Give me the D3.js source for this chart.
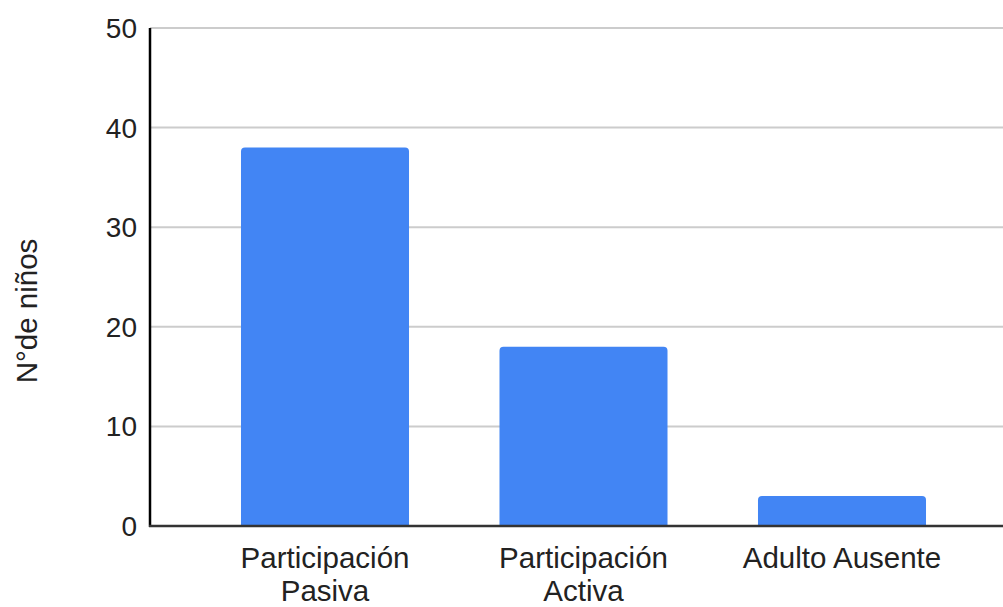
<!DOCTYPE html>
<html><head><meta charset="utf-8">
<script src="https://cdn.jsdelivr.net/npm/d3@7"></script>
<style>body{margin:0;background:#fff}svg{display:block}text{font-family:"Liberation Sans",Arial,sans-serif;fill:#222}</style>
</head><body><svg id="c" width="1003" height="607"></svg>
<script>
const categories = [["Participación","Pasiva"],["Participación","Activa"],["Adulto Ausente"]];
const values = [38, 18, 3];
const yTicks = [0,10,20,30,40,50];
const yTitle = "N°de niños";

const svg = d3.select("#c");
const x = d3.scaleBand().domain(d3.range(categories.length)).range([150,1017]).paddingInner(0.35).paddingOuter(0.352);
const y = d3.scaleLinear().domain([0,50]).range([526,28]);

// gridlines
svg.append("g").selectAll("line").data(yTicks.filter(d=>d>0)).join("line")
  .attr("x1",150).attr("x2",1003).attr("y1",d=>y(d)).attr("y2",d=>y(d))
  .attr("stroke","#cccccc").attr("stroke-width",2);

// bars with rounded top corners
const r = 4;
svg.append("g").selectAll("path").data(values).join("path")
  .attr("fill","#4285f4")
  .attr("d",(d,i)=>{
    const x0=x(i), w=x.bandwidth(), y0=y(d), yb=y(0);
    return `M${x0},${yb}V${y0+r}Q${x0},${y0} ${x0+r},${y0}H${x0+w-r}Q${x0+w},${y0} ${x0+w},${y0+r}V${yb}Z`;
  });

// axes lines
svg.append("line").attr("x1",150).attr("x2",150).attr("y1",y(50)).attr("y2",y(0)+1).attr("stroke","#000").attr("stroke-width",2.5);
svg.append("line").attr("x1",149).attr("x2",1003).attr("y1",y(0)).attr("y2",y(0)).attr("stroke","#333").attr("stroke-width",2.5);

// y tick labels
svg.append("g").selectAll("text").data(yTicks).join("text")
  .attr("x",137).attr("y",d=>y(d)).attr("dy","0.36em").attr("text-anchor","end")
  .attr("font-size",28).text(d=>d);

// category labels
const cl = svg.append("g").selectAll("text").data(categories).join("text")
  .attr("text-anchor","middle").attr("font-size",29.5)
  .attr("transform",(d,i)=>`translate(${x(i)+x.bandwidth()/2},568)`);
cl.selectAll("tspan").data(d=>d).join("tspan").attr("x",0).attr("y",(d,j)=>j*33).text(d=>d);

// y title
svg.append("text").attr("transform","translate(37,311) rotate(-90)").attr("text-anchor","middle")
  .attr("font-size",29.5).text(yTitle);
</script></body></html>
